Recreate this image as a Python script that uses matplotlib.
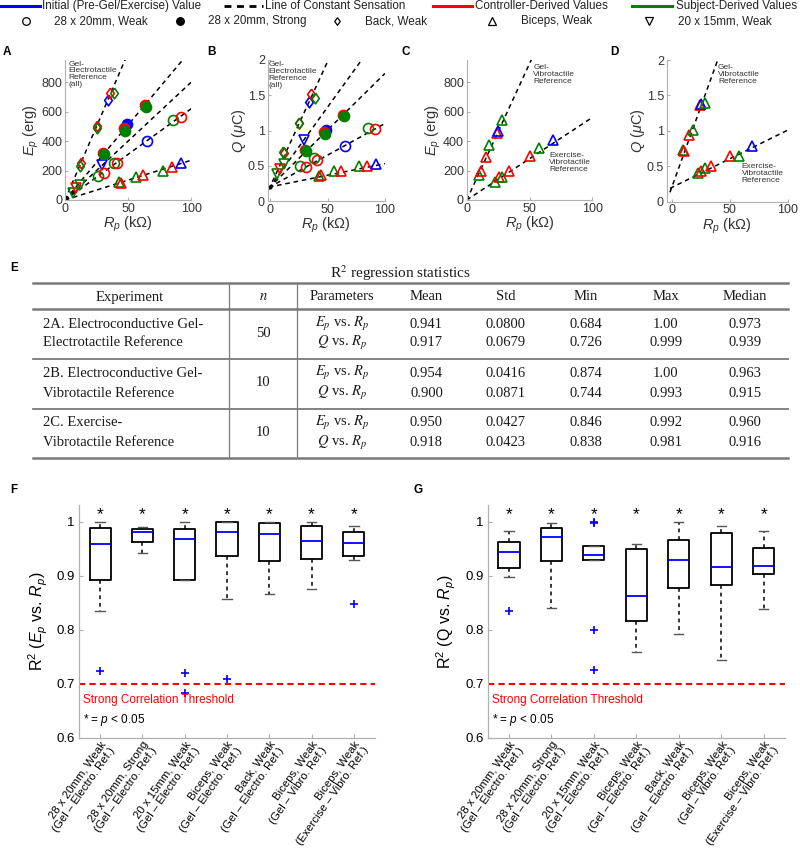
import matplotlib
matplotlib.use('Agg')
import matplotlib.pyplot as plt
from matplotlib.lines import Line2D

plt.rcParams['font.family'] = ['Liberation Sans', 'DejaVu Sans']
plt.rcParams['mathtext.fontset'] = 'custom'
plt.rcParams['mathtext.rm'] = 'Liberation Sans'
plt.rcParams['mathtext.it'] = 'Liberation Sans:italic'
plt.rcParams['mathtext.bf'] = 'Liberation Sans:bold'

# ---- data: panels A / B (same points, energy and charge) ----
ab_marker = ['D', 'D', 'D', 'D', 'D', 'D', 'D', 'v', 'v', 'v', 'v',
             'f', 'f', 'f', 'f', 'f', 'f', 'f', 'o', 'o', 'o', 'o', 'o', 'o', 'o',
             '^', '^', '^', '^', '^', '^', '^']
ab_color = ['r', 'g', 'r', 'g', 'b', 'r', 'g', 'b', 'g', 'r', 'g',
            'r', 'g', 'b', 'r', 'g', 'r', 'g', 'g', 'r', 'g', 'r', 'b', 'g', 'r',
            'g', 'r', 'g', 'r', 'g', 'r', 'b']
ab_R = [12.5, 11.5, 25, 25.5, 33.8, 36, 39, 29.5, 6, 9, 12,
        30, 31, 49, 47, 47.6, 63.5, 64, 26, 31, 38.5, 40.8, 65, 85.5, 91.5,
        42.5, 44, 56, 62, 77.8, 84.6, 92]
ab_E = [249, 231, 499, 490, 680, 726, 728, 238, 50, 80, 100,
        322, 313, 517, 487, 470, 646, 630, 166, 186, 254, 252, 397, 544, 560,
        120, 118, 155, 170, 200, 225, 248]
ab_Q = [0.68, 0.70, 1.10, 1.11, 1.41, 1.52, 1.46, 0.87, 0.39, 0.46, 0.52,
        0.72, 0.71, 1.01, 0.98, 0.95, 1.22, 1.20, 0.50, 0.48, 0.61, 0.58, 0.78, 1.04, 1.02,
        0.36, 0.37, 0.43, 0.43, 0.50, 0.50, 0.53]
A_slopes = [20.0, 10.2, 8.0, 6.2, 2.7]
B_slopes = [0.0355, 0.0226, 0.0161, 0.0090, 0.0033]
B_icpt = 0.2

# ---- data: panels C / D (biceps, vibrotactile references) ----
cd_color = ['g', 'r', 'r', 'g', 'r', 'b', 'g', 'g', 'r', 'g', 'r', 'r', 'g', 'b']
cd_R = [10, 11, 15, 18, 24, 25.2, 28.3, 22.8, 25.5, 28.5, 34, 50.5, 57.6, 69]
cd_E = [170, 200, 290, 374, 454, 465, 544, 125, 154, 159, 200, 299, 351, 404]
cd_Q = [0.73, 0.72, 0.94, 1.01, 1.36, 1.38, 1.40, 0.40, 0.44, 0.48, 0.50, 0.64, 0.64, 0.78]
C_slopes = [18.5, 5.6]
D_slopes = [0.0454, 0.0081]
D_icpt = 0.2

# ---- data: table E ----
experiments = ['2A. Electroconductive Gel-\nElectrotactile Reference',
               '2B. Electroconductive Gel-\nVibrotactile Reference',
               '2C. Exercise-\nVibrotactile Reference']
n_vals = ['50', '10', '10']
params = ['$E_p$ vs. $R_p$', '$Q$ vs. $R_p$'] * 3
mean_vals = ['0.941', '0.917', '0.954', '0.900', '0.950', '0.918']
std_vals = ['0.0800', '0.0679', '0.0416', '0.0871', '0.0427', '0.0423']
min_vals = ['0.684', '0.726', '0.874', '0.744', '0.846', '0.838']
max_vals = ['1.00', '0.999', '1.00', '0.993', '0.992', '0.981']
median_vals = ['0.973', '0.939', '0.963', '0.915', '0.960', '0.916']

# ---- data: boxplots F / G ----
box_labels = ['28 x 20mm, Weak\n(Gel \u2013 Electro. Ref.)',
              '28 x 20mm, Strong\n(Gel \u2013 Electro. Ref.)',
              '20 x 15mm, Weak\n(Gel \u2013 Electro. Ref.)',
              'Biceps, Weak\n(Gel \u2013 Electro. Ref.)',
              'Back, Weak\n(Gel \u2013 Electro. Ref.)',
              'Biceps, Weak\n(Gel \u2013 Vibro. Ref.)',
              'Biceps, Weak\n(Exercise \u2013 Vibro. Ref.)']
F_q1 = [0.892, 0.963, 0.893, 0.937, 0.928, 0.932, 0.936]
F_med = [0.958, 0.981, 0.969, 0.981, 0.977, 0.965, 0.961]
F_q3 = [0.989, 0.987, 0.987, 0.999, 0.998, 0.992, 0.981]
F_lo = [0.835, 0.942, 0.893, 0.858, 0.867, 0.876, 0.929]
F_hi = [1.0, 0.990, 1.0, 1.0, 1.0, 1.0, 0.993]
F_fliers = [[0.724], [], [0.720, 0.684], [0.710], [], [], [0.847]]
G_q1 = [0.914, 0.927, 0.930, 0.816, 0.878, 0.883, 0.904]
G_med = [0.944, 0.972, 0.939, 0.862, 0.929, 0.916, 0.918]
G_q3 = [0.963, 0.988, 0.955, 0.950, 0.966, 0.980, 0.951]
G_lo = [0.898, 0.841, 0.930, 0.760, 0.792, 0.744, 0.839]
G_hi = [0.983, 0.997, 0.955, 0.958, 0.999, 0.993, 0.983]
G_fliers = [[0.835], [], [1.0, 0.997, 0.799, 0.726], [], [], [], []]

COLORS = {'r': '#ff0000', 'g': '#008000', 'b': '#0000ff'}
DIAMOND = [(0, 1), (0.72, 0), (0, -1), (-0.72, 0), (0, 1)]
W, H = 800, 865

fig = plt.figure(figsize=(8, 8.65), dpi=100)


def px_axes(l, t, r, b):
    return fig.add_axes([l / W, 1 - b / H, (r - l) / W, (b - t) / H])


def fig_text(x, y, s, **kw):
    fig.text(x / W, 1 - y / H, s, **kw)


def fig_line(x0, x1, y0, y1, **kw):
    fig.add_artist(Line2D([x0 / W, x1 / W], [1 - y0 / H, 1 - y1 / H],
                          transform=fig.transFigure, **kw))


def draw_marker(ax, x, y, m, c):
    col = COLORS[c]
    if m == 'D':
        ax.plot(x, y, marker=DIAMOND, ms=7.7, mec=col, mfc='none', mew=1.2, ls='none')
    elif m == 'f':
        ax.plot(x, y, marker='o', ms=7.2, mec=col, mfc=col, mew=1.2, ls='none')
    else:
        ms = 7.2 if m == 'o' else 7.6
        ax.plot(x, y, marker=m, ms=ms, mec=col, mfc='none', mew=1.2, ls='none')


def style_scatter_ax(ax, xlim, ylim, yticks, ylabel):
    ax.set_xlim(*xlim)
    ax.set_ylim(*ylim)
    ax.set_xticks([0, 50, 100])
    ax.set_yticks(yticks)
    for s in ['top', 'right']:
        ax.spines[s].set_visible(False)
    for s in ['left', 'bottom']:
        ax.spines[s].set_color('#b0b0b0')
        ax.spines[s].set_linewidth(0.8)
    ax.tick_params(direction='in', length=2, color='#b0b0b0', labelsize=9,
                   labelcolor='#333333', pad=2)
    ax.set_ylabel(ylabel, fontsize=10.5, color='#333333', labelpad=0)
    ax.set_xlabel('$R_p$ (k\u03a9)', fontsize=10.5, color='#333333', labelpad=0)


ref_kw = dict(color='black', ls='--', lw=1.1, dashes=(3, 2.5))
note_kw = dict(fontsize=6, color='#333333', va='top', ha='left', linespacing=0.95)

# ---- panel A ----
axA = px_axes(65, 60, 191.3, 200)
for s in A_slopes:
    axA.plot([0, 100], [0, 100 * s], **ref_kw)
for m, c, x, y in zip(ab_marker, ab_color, ab_R, ab_E):
    draw_marker(axA, x, y, m, c)
axA.plot([0.5], [5], marker='^', ms=3, color='black')
axA.text(2.5, 945, 'Gel-\nElectrotactile\nReference\n(all)', **note_kw)
style_scatter_ax(axA, (0, 100), (0, 950), [0, 200, 400, 600, 800], '$E_p$ (erg)')

# ---- panel B ----
axB = px_axes(267.7, 60, 385, 201)
for s in B_slopes:
    axB.plot([-1, 100], [B_icpt - s, B_icpt + 100 * s], **ref_kw)
for m, c, x, y in zip(ab_marker, ab_color, ab_R, ab_Q):
    draw_marker(axB, x, y, m, c)
axB.plot([0], [B_icpt], marker='o', ms=2, color='black')
axB.text(-1, 1.98, 'Gel-\nElectrotactile\nReference\n(all)', **note_kw)
style_scatter_ax(axB, (-2, 100), (0, 2), [0, 0.5, 1, 1.5, 2], '$Q$ ($\\mu$C)')
axB.set_yticklabels(['0', '0.5', '1', '1.5', '2'])

# ---- panel C ----
axC = px_axes(466.7, 60, 592.3, 200)
for s in C_slopes:
    axC.plot([0, 100], [0, 100 * s], **ref_kw)
for c, x, y in zip(cd_color, cd_R, cd_E):
    draw_marker(axC, x, y, '^', c)
axC.text(53, 920, 'Gel-\nVibrotactile\nReference', **note_kw)
axC.text(65.5, 325, 'Exercise-\nVibrotactile\nReference', **note_kw)
style_scatter_ax(axC, (0, 100), (0, 950), [0, 200, 400, 600, 800], '$E_p$ (erg)')

# ---- panel D ----
axD = px_axes(666.7, 60, 787.7, 201.7)
for s in D_slopes:
    axD.plot([-1.5, 100], [D_icpt - 1.5 * s, D_icpt + 100 * s], **ref_kw)
for c, x, y in zip(cd_color, cd_R, cd_Q):
    draw_marker(axD, x, y, '^', c)
axD.text(40, 1.94, 'Gel-\nVibrotactile\nReference', **note_kw)
axD.text(60.3, 0.54, 'Exercise-\nVibrotactile\nReference', **note_kw)
style_scatter_ax(axD, (-4.3, 100), (0, 2), [0, 0.5, 1, 1.5, 2], '$Q$ ($\\mu$C)')
axD.set_yticklabels(['0', '0.5', '1', '1.5', '2'])

# ---- legend at the top ----
leg_kw = dict(fontsize=8.4, va='center', ha='left', color='#222222')
row1 = 6
for x0, x1, col, ls, lab, tx in [(0, 40, '#0000ff', '-', 'Initial (Pre-Gel/Exercise) Value', 42),
                                 (224, 263, 'black', '--', 'Line of Constant Sensation', 265),
                                 (433, 472, '#ff0000', '-', 'Controller-Derived Values', 475),
                                 (632, 672, '#008000', '-', 'Subject-Derived Values', 676)]:
    if ls == '--':
        fig_line(x0, x1, row1, row1, color=col, lw=2, ls='--', dashes=(2.5, 2))
    else:
        fig_line(x0, x1, row1, row1, color=col, lw=2.2)
    fig_text(tx, row1, lab, **leg_kw)
row2 = 21
for mx, m, filled, lab, tx in [(25.5, 'o', False, '28 x 20mm, Weak', 53.6),
                               (180, 'o', True, '28 x 20mm, Strong', 208),
                               (337, DIAMOND, False, 'Back, Weak', 365),
                               (492, '^', False, 'Biceps, Weak', 521),
                               (649, 'v', False, '20 x 15mm, Weak', 678)]:
    fig.add_artist(Line2D([mx / W], [1 - row2 / H], transform=fig.transFigure,
                          marker=m, ms=5.5, mec='black', mfc='black' if filled else 'none',
                          mew=0.9, ls='none'))
    fig_text(tx, row2, lab, **leg_kw)

# ---- panel letters ----
for lab, x, y in [('A', 3, 52), ('B', 207, 52), ('C', 402, 52), ('D', 610, 52),
                  ('E', 10, 268), ('F', 10, 490), ('G', 414, 490)]:
    fig_text(x, y, lab, fontsize=8.5, fontweight='bold', va='center', ha='left')

# ---- table E ----
serif = dict(family='Liberation Serif', math_fontfamily='stix', color='#1a1a1a')
fig_text(400, 273, 'R$^2$ regression statistics', fontsize=11, ha='center', va='center', **serif)
for y, lw in zip([283, 309, 359, 409, 458], [1.8, 1.8, 1.3, 1.3, 1.8]):
    fig_line(33, 788, y, y, color='#7a7a7a', lw=lw)
for x in [228.6, 297]:
    fig_line(x, x, 283, 458, color='#7a7a7a', lw=0.9)

col_x = [342, 426.5, 506, 586, 666, 745]
headers = ['Parameters', 'Mean', 'Std', 'Min', 'Max', 'Median']
cell_kw = dict(fontsize=10.5, va='center', **serif)
fig_text(130, 297, 'Experiment', ha='center', **cell_kw)
fig_text(263, 297, '$n$', ha='center', **cell_kw)
for x, h in zip(col_x, headers):
    fig_text(x, 297, h, ha='center', **cell_kw)

row_y = [324, 343, 373, 393, 423, 443]
for g in range(3):
    y1, y2 = row_y[2 * g], row_y[2 * g + 1]
    line1, line2 = experiments[g].split('\n')
    fig_text(43, y1, line1, ha='left', **cell_kw)
    fig_text(43, y2, line2, ha='left', **cell_kw)
    fig_text(263, (y1 + y2) / 2, n_vals[g], ha='center', **cell_kw)
for i, y in enumerate(row_y):
    vals = [params[i], mean_vals[i], std_vals[i], min_vals[i], max_vals[i], median_vals[i]]
    for x, v in zip(col_x, vals):
        fig_text(x, y, v, ha='center', **cell_kw)


# ---- boxplots F / G ----
def draw_box_panel(ax, q1, med, q3, lo, hi, fliers, ylabel):
    stats = []
    for i in range(len(q1)):
        stats.append(dict(q1=q1[i], med=med[i], q3=q3[i], whislo=lo[i],
                          whishi=hi[i], fliers=fliers[i]))
    ax.bxp(stats, positions=range(1, 8), widths=0.5, capwidths=0.22,
           boxprops=dict(color='black', lw=1.3),
           medianprops=dict(color='#0000ff', lw=1.3),
           whiskerprops=dict(color='black', lw=1.1, ls='--', dashes=(2.5, 2.5)),
           capprops=dict(color='#555555', lw=1.0),
           flierprops=dict(marker='+', mec='#0000ff', ms=6, mew=1.2))
    for p in range(1, 8):
        ax.text(p, 1.014, '*', ha='center', va='center', fontsize=12.5)
    ax.axhline(0.7, color='#ff0000', ls='--', lw=1.5, dashes=(3, 2))
    ax.text(0.6, 0.671, 'Strong Correlation Threshold', color='#ff0000', fontsize=8.5,
            va='center', ha='left')
    ax.text(0.6, 0.634, '* = $p$ < 0.05', color='black', fontsize=8.5, va='center', ha='left')
    ax.set_xlim(0.5, 7.5)
    ax.set_ylim(0.6, 1.031)
    ax.set_yticks([0.6, 0.7, 0.8, 0.9, 1.0])
    ax.set_yticklabels(['0.6', '0.7', '0.8', '0.9', '1'])
    ax.set_xticks(range(1, 8))
    for s in ['top', 'right']:
        ax.spines[s].set_visible(False)
    for s in ['left', 'bottom']:
        ax.spines[s].set_color('#b0b0b0')
        ax.spines[s].set_linewidth(0.9)
    ax.tick_params(direction='in', length=3, color='#b0b0b0', labelsize=9.5, pad=3)
    ax.tick_params(axis='x', pad=1)
    ax.set_xticklabels(box_labels, rotation=55, ha='right', va='top',
                       rotation_mode='anchor', multialignment='right',
                       fontsize=8.2, linespacing=1.05)
    ax.set_ylabel(ylabel, fontsize=11.5, labelpad=5)


axF = px_axes(79, 505, 375, 738)
draw_box_panel(axF, F_q1, F_med, F_q3, F_lo, F_hi, F_fliers, 'R$^2$ ($E_p$ vs. $R_p$)')
axG = px_axes(487.7, 505, 785, 738)
draw_box_panel(axG, G_q1, G_med, G_q3, G_lo, G_hi, G_fliers, 'R$^2$ (Q vs. $R_p$)')

fig.savefig('out.png', dpi=100)
